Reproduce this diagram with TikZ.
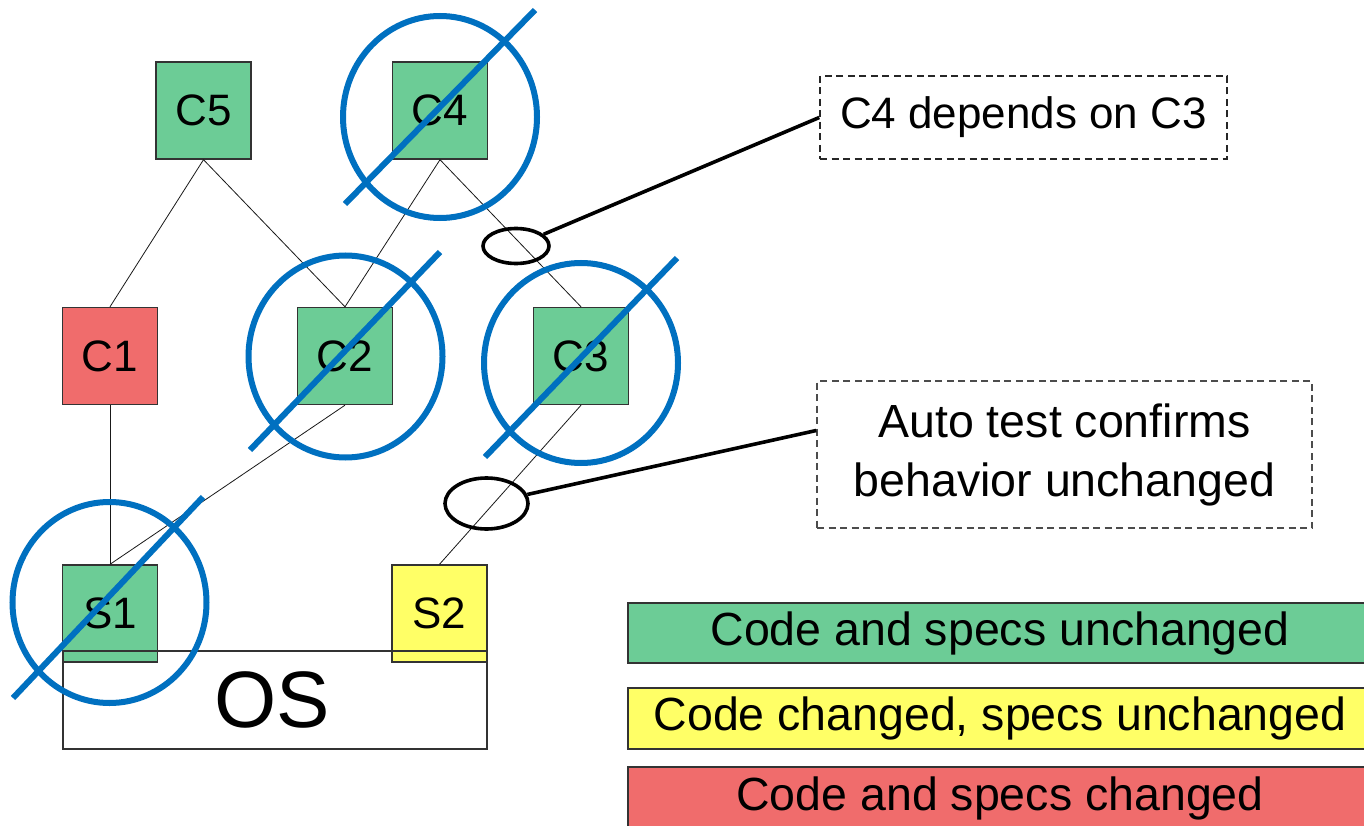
\documentclass[tikz,border=0pt]{standalone}
\usepackage{fontspec}
\setmainfont{Liberation Sans}
\usetikzlibrary{shapes.geometric}
\definecolor{cgreen}{RGB}{108,204,150}
\definecolor{cred}{RGB}{240,108,108}
\definecolor{cyellow}{RGB}{255,255,102}
\definecolor{cblue}{RGB}{0,112,192}
\begin{document}
\begin{tikzpicture}[x=1pt,y=-1pt,
  comp/.style={draw=black!80, line width=1.4pt, minimum width=95pt, minimum height=97pt, inner sep=0pt, font=\fontsize{44}{50}\selectfont},
  dep/.style={draw=black!90, line width=0.8pt},
  strike/.style={draw=cblue, line width=6pt},
  callout/.style={draw=black, line width=3.6pt},
  ring/.style={draw=black, line width=3.6pt, ellipse, inner sep=0pt},
  note/.style={draw=black!85, line width=1.5pt, dash pattern=on 7pt off 4.5pt, inner sep=0pt},
  legend/.style={draw=black!80, line width=1.4pt, minimum width=744pt, inner sep=0pt, font=\fontsize{46.5}{50}\selectfont}]
\useasboundingbox[fill=white] (0,0) rectangle (1364,826);

% components
\node[comp, fill=cgreen] (C5) at (203.5,110.5) {C5};
\node[comp, fill=cgreen] (C4) at (440,110.5) {C4};
\node[comp, fill=cred]   (C1) at (110,356) {C1};
\node[comp, fill=cgreen] (C2) at (345,356) {C2};
\node[comp, fill=cgreen] (C3) at (581,356) {C3};
\node[comp, fill=cgreen] (S1) at (110,613.5) {S1};
\node[comp, fill=cyellow] (S2) at (439.5,613.5) {S2};
\node[draw=black!80, line width=1.4pt, minimum width=424pt, minimum height=98pt, inner sep=0pt,
      font=\fontsize{80}{90}\selectfont] (OS) at (275,700) {\hspace*{-6pt}OS};

% dependencies
\draw[dep] (C5.south) -- (C1.north);
\draw[dep] (C5.south) -- (C2.north);
\draw[dep] (C4.south) -- (C2.north);
\draw[dep] (C4.south) -- (C3.north);
\draw[dep] (C1.south) -- (S1.north);
\draw[dep] (C2.south) -- (S1.north);
\draw[dep] (C3.south) -- (S2.north);

% strike-outs
\draw[strike] (440,117) ellipse [x radius=97pt, y radius=101pt];
\draw[strike] (345,204) -- (535,10);
\draw[strike] (345.5,356.5) ellipse [x radius=97pt, y radius=101pt];
\draw[strike] (250,450) -- (440,252);
\draw[strike] (581,363) ellipse [x radius=97pt, y radius=100pt];
\draw[strike] (485,457) -- (677,258);
\draw[strike] (109.5,602.5) ellipse [x radius=97pt, y radius=100.5pt];
\draw[strike] (13,698) -- (203,497);

% callouts
\node[note, minimum width=407pt, minimum height=83pt, font=\fontsize{44}{50}\selectfont] (N1) at (1023.5,117.5) {C4 depends on C3};
\node[note, draw=black!70, minimum width=495pt, minimum height=147pt, align=center, font=\fontsize{46.5}{59}\selectfont] (N2) at (1064.5,454.5) {Auto test confirms\\behavior unchanged};
\node[ring, minimum width=66pt, minimum height=35pt] (E1) at (516,246) {};
\node[ring, minimum width=83pt, minimum height=51pt] (E2) at (486.5,503.5) {};
\coordinate (N2in) at ([yshift=24pt]N2.west);
\draw[callout] (E1) -- (N1.west);
\draw[callout] (E2) -- (N2in);

% legend
\node[legend, fill=cgreen, minimum height=60pt] (L1) at (1000,633) {Code and specs unchanged};
\node[legend, fill=cyellow, minimum height=61pt] (L2) at (1000,718.5) {Code changed, specs unchanged};
\node[legend, fill=cred, minimum height=62pt] (L3) at (1000,798) {Code and specs changed};
\end{tikzpicture}
\end{document}
